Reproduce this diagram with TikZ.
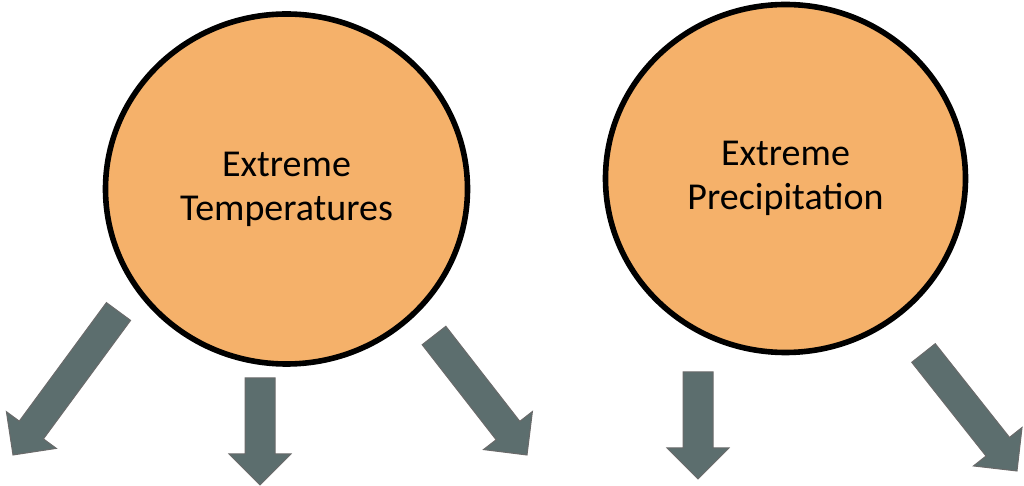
\documentclass[tikz,border=0pt]{standalone}
\usepackage{fontspec}
\setmainfont{Carlito}
\usetikzlibrary{calc,shapes.geometric}

\definecolor{hazard}{HTML}{F5B16A}
\definecolor{slate}{HTML}{5C6E6E}
\definecolor{slateedge}{HTML}{6A6A6A}

\begin{document}
\begin{tikzpicture}[x=0.5pt,y=-0.5pt,
    hazard/.style={ellipse,draw=black,line width=2.8pt,fill=hazard,inner sep=0pt,
      align=center,font=\fontsize{19}{22}\selectfont},
    impact/.style={fill=slate,draw=slateedge,line width=0.5pt,line join=miter}]
  \useasboundingbox (0,0) rectangle (1024,486);

  \node[hazard,minimum width=181pt,minimum height=175pt] (temp) at (286.5,189) {Extreme\\Temperatures};
  \node[hazard,minimum width=180pt,minimum height=174pt] (precip) at (785.5,178.5) {Extreme\\Precipitation};

  \foreach \tx/\ty/\hx/\hy in {118.5/311.5/13/455, 260/378/260/485, 434/335.5/527/455,
                               698/372/698/479, 923.5/353/1017/471} {
    \coordinate (T) at (\tx,\ty);
    \coordinate (H) at (\hx,\hy);
    \coordinate (B) at ($ (H) ! 15.5pt ! (T) $);
    \path[impact] ($ (T) ! 7.5pt ! -90:(H) $) -- ($ (B) ! 7.5pt ! -90:(H) $)
      -- ($ (B) ! 15.5pt ! -90:(H) $) -- (H) -- ($ (B) ! 15.5pt ! 90:(H) $)
      -- ($ (B) ! 7.5pt ! 90:(H) $) -- ($ (T) ! 7.5pt ! 90:(H) $) -- cycle;
  }
\end{tikzpicture}
\end{document}
